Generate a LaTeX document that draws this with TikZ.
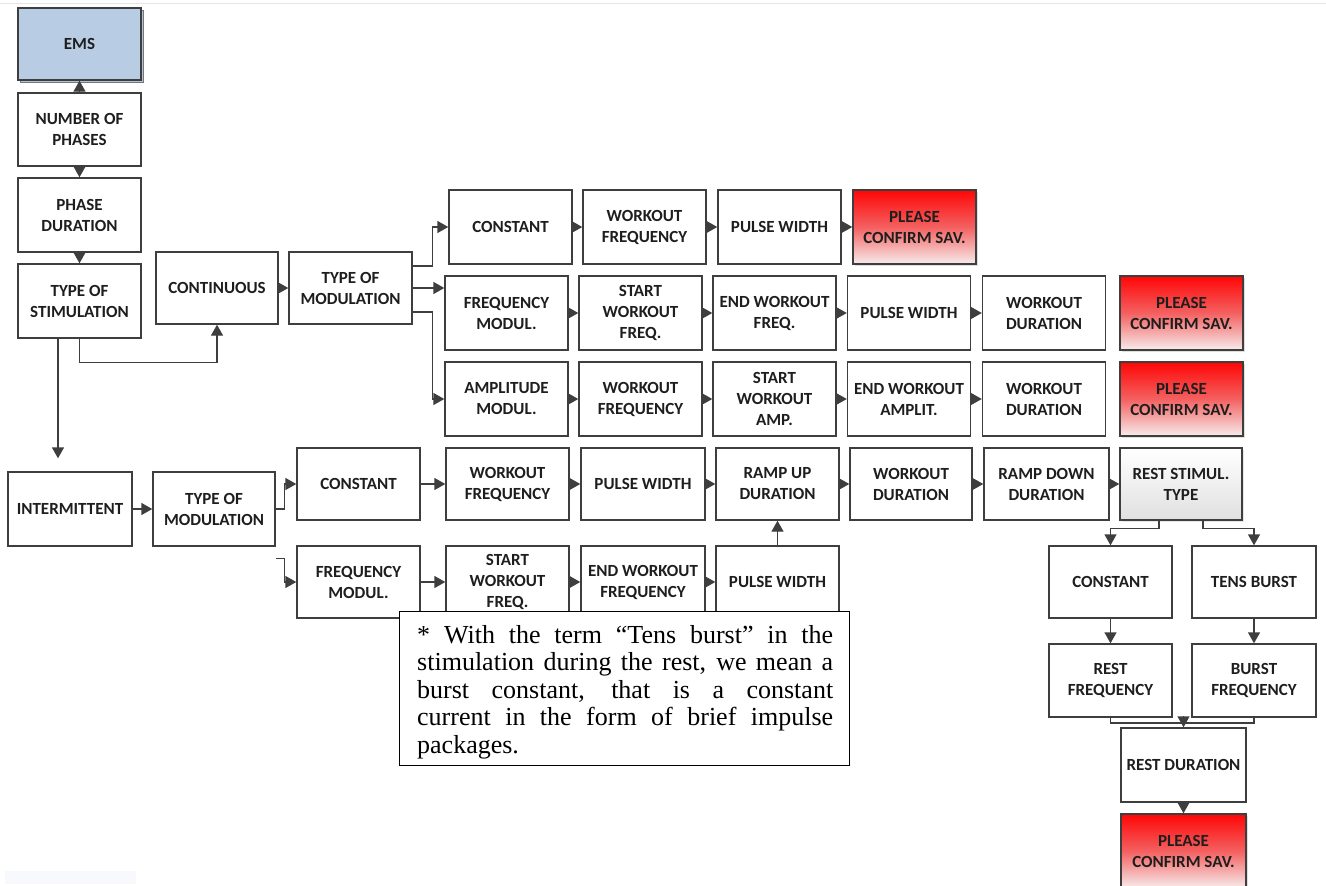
\documentclass[tikz,border=0pt]{standalone}
\usepackage{fontspec}
\setmainfont{Carlito}
\newfontfamily\notefont{Liberation Serif}
\usetikzlibrary{arrows.meta,shadows}

\definecolor{edge}{RGB}{62,62,62}
\definecolor{ink}{RGB}{30,30,30}
\definecolor{emsblue}{RGB}{184,204,228}
\definecolor{savred}{RGB}{255,6,6}
\definecolor{savmid}{RGB}{244,96,96}
\definecolor{savpale}{RGB}{247,236,236}
\definecolor{restgray}{RGB}{224,224,224}

\begin{document}
\begin{tikzpicture}[x=1pt,y=-1pt,
  box/.style={draw=edge, line width=1.4pt, fill=white, minimum width=123pt,
    minimum height=74pt, inner sep=2pt, align=center, text=ink,
    font=\bfseries\fontsize{17}{21}\selectfont},
  savebox/.style={box, top color=savred, bottom color=savpale, middle color=savmid,
    drop shadow={shadow xshift=2pt, shadow yshift=-2pt, opacity=0.25}},
  restbox/.style={box, top color=white, bottom color=restgray,
    drop shadow={shadow xshift=2pt, shadow yshift=-2pt, opacity=0.2}},
  arr/.style={draw=edge, line width=1.4pt, -{Triangle[length=11pt,width=12pt]}},
  link/.style={draw=edge, line width=1.4pt}
]
\useasboundingbox (0,0) rectangle (1326,886);

% faint page rule and corner tint
\draw[black!10, line width=0.8pt] (0,3.5) -- (1326,3.5);
\fill[emsblue!12] (5,871) rectangle (136,884);

% main column
\node[box, fill=emsblue, minimum height=72pt,
  copy shadow={shadow xshift=2.5pt, shadow yshift=-2.5pt, draw=edge!70, fill=emsblue!85!gray}]
  (ems) at (79.5,44) {EMS};
\node[box, minimum height=73pt] (nph) at (79.5,129.5) {NUMBER OF\\PHASES};
\node[box] (pdur) at (79.5,215) {PHASE\\DURATION};
\node[box] (tstim) at (79.5,301) {TYPE OF\\STIMULATION};

% continuous branch
\node[box, minimum width=122pt, minimum height=72pt] (cont) at (217,288) {CONTINUOUS};
\node[box, minimum height=72pt] (tmodc) at (350.5,288) {TYPE OF\\MODULATION};

% continuous / constant
\node[box] (cc) at (510.5,227) {CONSTANT};
\node[box] (ccwf) at (644.5,227) {WORKOUT\\FREQUENCY};
\node[box] (ccpw) at (779.5,227) {PULSE WIDTH};
\node[savebox] (ccsav) at (914.5,227) {PLEASE\\CONFIRM SAV.};

% continuous / frequency modulation
\node[box] (cf) at (506.5,313) {FREQUENCY\\MODUL.};
\node[box] (cfsw) at (640.5,313) {START\\WORKOUT\\FREQ.};
\node[box] (cfew) at (774.5,313) {END WORKOUT\\FREQ.};
\node[box] (cfpw) at (909,313) {PULSE WIDTH};
\node[box] (cfwd) at (1044,313) {WORKOUT\\DURATION};
\node[savebox] (cfsav) at (1181.5,313) {PLEASE\\CONFIRM SAV.};

% continuous / amplitude modulation
\node[box] (ca) at (506.5,399) {AMPLITUDE\\MODUL.};
\node[box] (cawf) at (640.5,399) {WORKOUT\\FREQUENCY};
\node[box] (casa) at (774.5,399) {START\\WORKOUT\\AMP.};
\node[box] (caea) at (909,399) {END WORKOUT\\AMPLIT.};
\node[box] (cawd) at (1044,399) {WORKOUT\\DURATION};
\node[savebox] (casav) at (1181.5,399) {PLEASE\\CONFIRM SAV.};

% intermittent branch
\node[box, minimum width=124pt] (inter) at (70,509) {INTERMITTENT};
\node[box, minimum width=122pt] (tmodi) at (214,509) {TYPE OF\\MODULATION};

\node[box, minimum height=72pt] (ic) at (358.5,484) {CONSTANT};
\node[box, minimum height=72pt] (icwf) at (507.5,484) {WORKOUT\\FREQUENCY};
\node[box, minimum width=124pt, minimum height=72pt] (icpw) at (643,484) {PULSE WIDTH};
\node[box, minimum height=72pt] (icru) at (777.5,484) {RAMP UP\\DURATION};
\node[box, minimum width=122pt, minimum height=72pt] (icwd) at (911,484) {WORKOUT\\DURATION};
\node[box, minimum width=125pt, minimum height=72pt] (icrd) at (1046.5,484) {RAMP DOWN\\DURATION};
\node[restbox, minimum width=122pt, minimum height=72pt] (rst) at (1181,484) {REST STIMUL.\\TYPE};

\node[box, minimum height=72pt] (if) at (358.5,582) {FREQUENCY\\MODUL.};
\node[box, minimum height=72pt] (ifsw) at (507.5,582) {START\\WORKOUT\\FREQ.};
\node[box, minimum width=124pt, minimum height=72pt] (ifew) at (643,582) {END WORKOUT\\FREQUENCY};
\node[box, minimum height=72pt] (ifpw) at (777.5,582) {PULSE WIDTH};

% rest stimulation
\node[box, minimum height=72pt] (rc) at (1110.5,582) {CONSTANT};
\node[box, minimum width=124pt, minimum height=72pt] (rt) at (1254,582) {TENS BURST};
\node[box, minimum height=73pt] (rf) at (1110.5,680.5) {REST\\FREQUENCY};
\node[box, minimum width=124pt, minimum height=73pt] (bf) at (1254,680.5) {BURST\\FREQUENCY};
\node[box, minimum width=125pt] (rdur) at (1183.5,765) {REST DURATION};
\node[savebox, minimum width=125pt] (rsav) at (1183.5,851) {PLEASE\\CONFIRM SAV.};

% connectors: main column
\draw[arr] (nph) -- (ems);
\draw[arr] (nph) -- (pdur);
\draw[arr] (pdur) -- (tstim);
\draw[arr] (tstim.south) -- ++(0,24) -| (cont.south);
\draw[arr, shorten >=13pt] ([xshift=-21.5pt]tstim.south) -- ([xshift=-12pt]inter.north);
\draw[arr] (cont) -- (tmodc);

% connectors: continuous
\draw[arr] ([yshift=22pt]tmodc.east) -| ([xshift=-16pt]cc.west) -- (cc.west);
\draw[arr] (tmodc.east) -- (tmodc.east -| cf.west);
\draw[arr] ([yshift=-24pt]tmodc.east) -| ([xshift=-12pt]ca.west) -- (ca.west);
\draw[arr] (cc) -- (ccwf);
\draw[arr] (ccwf) -- (ccpw);
\draw[arr] (ccpw) -- (ccsav);
\draw[arr] (cf) -- (cfsw);
\draw[arr] (cfsw) -- (cfew);
\draw[arr] (cfew) -- (cfpw);
\draw[arr] (cfpw) -- (cfwd);
\draw[arr] (ca) -- (cawf);
\draw[arr] (cawf) -- (casa);
\draw[arr] (casa) -- (caea);
\draw[arr] (caea) -- (cawd);

% connectors: intermittent
\draw[arr] (inter) -- (tmodi);
\draw[arr] (tmodi.east) -| ([xshift=-12pt]ic.west) -- (ic.west);
\draw[arr] ([yshift=-12pt]tmodi.south east) -| ([xshift=-12pt]if.west) -- (if.west);
\draw[arr] (ic) -- (icwf);
\draw[arr] (icwf) -- (icpw);
\draw[arr] (icpw) -- (icru);
\draw[arr] (icru) -- (icwd);
\draw[arr] (icwd) -- (icrd);
\draw[arr] (icrd) -- (rst);
\draw[arr] (if) -- (ifsw);
\draw[arr] (ifsw) -- (ifew);
\draw[arr] (ifew) -- (ifpw);
\draw[arr] (ifpw) -- (icru);

% connectors: rest stimulation
\draw[arr] ([xshift=-22pt]rst.south) |- ([yshift=17pt]rc.north) -- (rc.north);
\draw[arr] ([xshift=22pt]rst.south) |- ([yshift=17pt]rt.north) -- (rt.north);
\draw[arr] (rc) -- (rf);
\draw[arr] (rt) -- (bf);
\coordinate (join) at (1183.5,723);
\draw[link] (rf.south) |- (join);
\draw[link] (bf.south) |- (join);
\draw[arr] ([yshift=7pt]join) -- (rdur.north);
\draw[arr] (rdur) -- (rsav);

% footnote
\node[draw=black, line width=1pt, fill=white, minimum width=450pt, minimum height=154pt,
  inner sep=0pt] (note) at (624.5,688) {};
\node[anchor=base west, inner sep=0pt] (notetext) at (417,643)
  {\parbox[t]{416pt}{\notefont\fontsize{26}{27.5}\selectfont
  \hbox to 416pt{* With the term “Tens burst” in the}
  \hbox to 416pt{stimulation during the rest, we mean a}
  \hbox to 416pt{burst constant, that is a constant}
  \hbox to 416pt{current in the form of brief impulse}
  \hbox{packages.}}};
\end{tikzpicture}
\end{document}
